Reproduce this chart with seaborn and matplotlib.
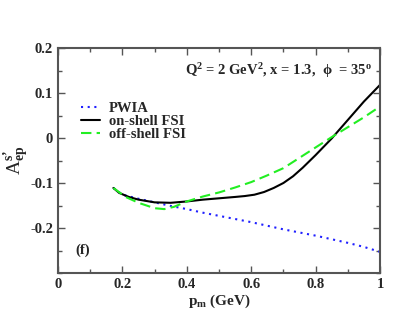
import numpy as np
import pandas as pd
import seaborn as sns
import matplotlib
matplotlib.use("Agg")
import matplotlib.pyplot as plt
from matplotlib.ticker import MultipleLocator

# Data
pm_pwia = [0.172, 0.2, 0.25, 0.3, 0.35, 0.4, 0.45, 0.5, 0.6, 0.7, 0.8, 0.9, 0.95, 1.0]
a_pwia = [-0.111, -0.126, -0.135, -0.143, -0.151, -0.158, -0.166, -0.173, -0.187, -0.203, -0.217, -0.233, -0.242, -0.253]

pm_on = [0.172, 0.19, 0.22, 0.25, 0.3, 0.35, 0.4, 0.45, 0.5, 0.55, 0.58, 0.61, 0.64, 0.67, 0.7, 0.73, 0.76, 0.8, 0.85, 0.9, 0.95, 1.0]
a_on = [-0.111, -0.122, -0.131, -0.137, -0.143, -0.144, -0.141, -0.137, -0.134, -0.131, -0.129, -0.126, -0.120, -0.111, -0.100, -0.085, -0.066, -0.038, -0.001, 0.040, 0.081, 0.118]

pm_off = [0.172, 0.21, 0.25, 0.3, 0.33, 0.36, 0.4, 0.45, 0.5, 0.55, 0.6, 0.65, 0.7, 0.75, 0.8, 0.85, 0.9, 0.95, 1.0]
a_off = [-0.111, -0.131, -0.144, -0.156, -0.158, -0.153, -0.141, -0.130, -0.121, -0.110, -0.098, -0.083, -0.067, -0.044, -0.021, 0.002, 0.024, 0.046, 0.070]

series_names = ["PWIA", "on-shell FSI", "off-shell FSI"]

df = pd.concat([
    pd.DataFrame({"pm": pm_pwia, "A": a_pwia, "model": series_names[0]}),
    pd.DataFrame({"pm": pm_on, "A": a_on, "model": series_names[1]}),
    pd.DataFrame({"pm": pm_off, "A": a_off, "model": series_names[2]}),
])

sns.set_style("ticks")
plt.rcParams['font.family'] = ['Liberation Serif', 'DejaVu Serif']
plt.rcParams['font.weight'] = 'bold'
plt.rcParams['mathtext.fontset'] = 'custom'
plt.rcParams['mathtext.rm'] = 'Liberation Serif:bold'
plt.rcParams['mathtext.it'] = 'Liberation Serif:bold'
plt.rcParams['mathtext.bf'] = 'Liberation Serif:bold'

fig = plt.figure(figsize=(4.17, 3.22), dpi=100)
ax = fig.add_axes([58/417, 1 - 273/322, (380-58)/417, (273-48)/322])

palette = {"PWIA": "#2020ff", "on-shell FSI": "black", "off-shell FSI": "#22ee22"}
sns.lineplot(data=df, x="pm", y="A", hue="model", style="model",
             palette=palette, dashes={"PWIA": (1, 2.2), "on-shell FSI": "", "off-shell FSI": (5, 2.5)},
             linewidth=1.5, ax=ax, sort=False, estimator=None)

ax.set_xlim(0, 1)
ax.set_ylim(-0.3, 0.2)
ax.xaxis.set_minor_locator(MultipleLocator(0.1))
ax.yaxis.set_minor_locator(MultipleLocator(0.05))
ax.set_xticks([0, 0.2, 0.4, 0.6, 0.8, 1.0])
ax.set_xticklabels(["0", "0.2", "0.4", "0.6", "0.8", "1"])
ax.set_yticks([-0.2, -0.1, 0, 0.1, 0.2])
ax.set_yticklabels(["-0.2", "-0.1", "0", "0.1", "0.2"])
ax.tick_params(which='both', direction='in', top=True, right=True, labelsize=10.5, color='#555555', width=1)
ax.tick_params(which='major', length=5)
ax.tick_params(which='minor', length=3)
for lab in ax.get_xticklabels() + ax.get_yticklabels():
    lab.set_fontweight('bold')
for s in ax.spines.values():
    s.set_color('#555555')
    s.set_linewidth(1.5)

ax.set_xlabel(r"p$_\mathrm{m}$ (GeV)", fontsize=11, fontweight='bold', labelpad=1)
ax.set_ylabel("A$^{\\mathrm{s}\u2019}_{\\mathrm{ep}}$", fontsize=14)
ax.yaxis.set_label_coords(-0.085, 0.5)

leg = ax.legend(loc='upper left', bbox_to_anchor=(0.045, 0.80), frameon=False,
                fontsize=10.5, handlelength=1.3, handletextpad=0.6, labelspacing=0.0,
                borderaxespad=0.2)
for t in leg.get_texts():
    t.set_fontweight('bold')

ax.text(0.975, 0.9, "Q$^2$ = 2 GeV$^2$, x = 1.3,  ϕ  = 35$^\\mathrm{o}$", transform=ax.transAxes,
        ha='right', va='center', fontsize=10.5, fontweight='bold')
ax.text(0.055, 0.1, "(f)", transform=ax.transAxes, ha='left', va='center', fontsize=10.5, fontweight='bold')

fig.savefig("out.png", dpi=100)
